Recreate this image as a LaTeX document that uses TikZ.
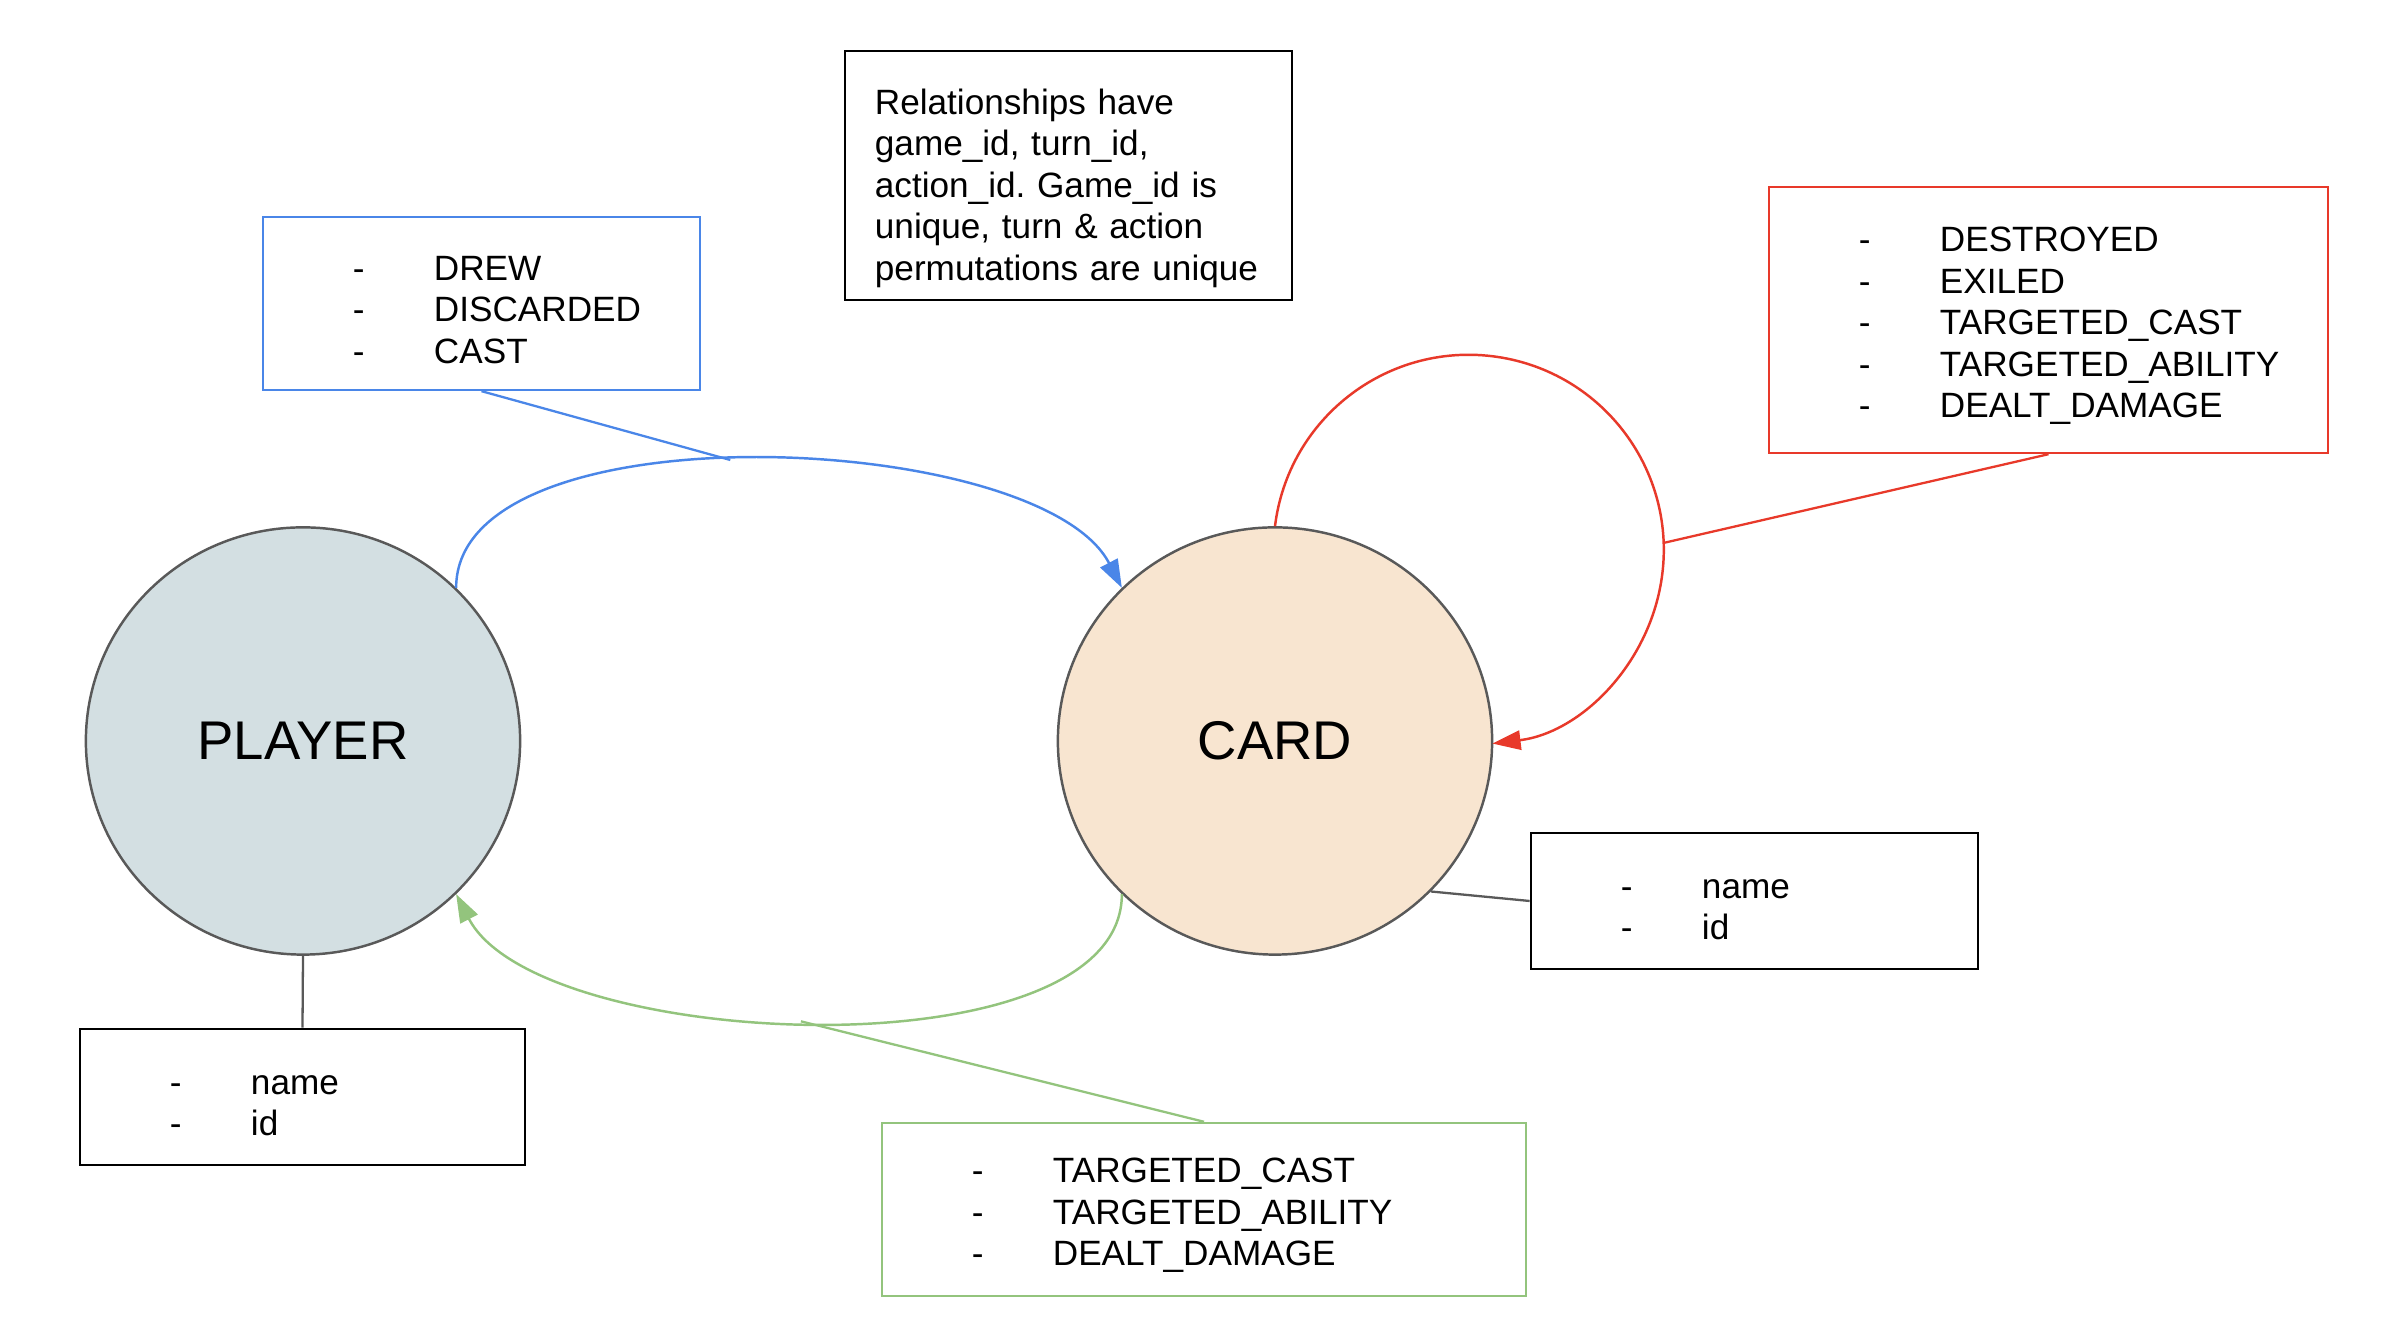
\documentclass[tikz,border=0pt]{standalone}
\usepackage{fontspec}
\setmainfont{Liberation Sans}
\usetikzlibrary{arrows.meta,calc,shapes.geometric}
\definecolor{bluec}{HTML}{4A86E8}
\definecolor{redc}{HTML}{E8392A}
\definecolor{greenc}{HTML}{93C47D}
\definecolor{playerfill}{HTML}{D3DFE2}
\definecolor{cardfill}{HTML}{F8E5D0}
\definecolor{edgegray}{HTML}{595959}
\newcommand{\listline}[1]{\hspace*{0.9cm}\makebox[0.81cm][l]{-}#1}
\frenchspacing
\begin{document}
\begin{tikzpicture}[x=0.01cm,y=0.01cm,
  entity/.style={ellipse, draw=edgegray, line width=0.7pt, minimum width=4.34cm, minimum height=4.27cm, inner sep=0pt,
    font=\fontsize{15.5}{18}\selectfont},
  listbox/.style={draw, line width=0.65pt, inner xsep=0pt, inner ysep=0pt, align=left,
    font=\fontsize{10}{11.8}\selectfont, execute at begin node={\rule{0pt}{10.4pt}}},
  notebox/.style={draw, line width=0.7pt, inner xsep=0.3cm, inner ysep=0pt, align=left,
    font=\fontsize{10}{11.8}\selectfont, execute at begin node={\rule{0pt}{14.6pt}}},
  rel/.style={line width=0.7pt, -{Triangle[length=8pt,width=5.5pt]}},
  lead/.style={line width=0.65pt},
]
\useasboundingbox (0,0) rectangle (2400,1340);
\fill[white] (0,0) rectangle (2400,1340);

% entities
\node[entity, fill=playerfill] (player) at (303,599) {PLAYER};
\node[entity, fill=cardfill] (card) at (1275,599) {CARD};

% boxes
\node[listbox, draw=bluec, text width=4.37cm, minimum height=1.73cm] (bluebox) at (481.5,1036.5)
  {\listline{DREW}\\\listline{DISCARDED}\\\listline{CAST}};
\node[notebox, draw=black, text width=3.87cm, minimum height=2.49cm] (note) at (1068.5,1164.5)
  {Relationships have\\game\_id, turn\_id,\\action\_id. Game\_id is\\unique, turn \& action\\permutations are unique};
\node[listbox, draw=redc, text width=5.59cm, minimum height=2.66cm] (redbox) at (2048.5,1020)
  {\listline{DESTROYED}\\\listline{EXILED}\\\listline{TARGETED\_CAST}\\\listline{TARGETED\_ABILITY}\\\listline{DEALT\_DAMAGE}};
\node[listbox, draw=black, line width=0.7pt, text width=4.47cm, minimum height=1.36cm] (cardbox) at (1754.5,439)
  {\listline{name}\\\listline{id}};
\node[listbox, draw=black, line width=0.7pt, text width=4.45cm, minimum height=1.36cm] (playerbox) at (302.5,243)
  {\listline{name}\\\listline{id}};
\node[listbox, draw=greenc, text width=6.44cm, minimum height=1.73cm] (greenbox) at (1204,130.5)
  {\listline{TARGETED\_CAST}\\\listline{TARGETED\_ABILITY}\\\listline{DEALT\_DAMAGE}};

% relationships
\draw[rel, bluec] (player.45) .. controls (456,935) and (1040,910) .. (card.135) coordinate[pos=0.47] (bluejoin);
\draw[rel, greenc] (card.225) .. controls (1122,263) and (538,288) .. (player.315) coordinate[pos=0.52] (greenjoin);
\coordinate (loopc) at (1468.5,789.2);
\draw[rel, redc] (card.north) arc[start angle=173, end angle=-83, radius=1.95cm];
\coordinate (redjoin) at ($(loopc)+(2.3:1.95cm)$);

% leaders
\draw[lead, bluec] (bluebox.south) -- (bluejoin);
\draw[lead, greenc] (greenbox.north) -- (greenjoin);
\draw[lead, redc] (redbox.south) -- (redjoin);
\draw[lead, edgegray] (card.-44) -- (cardbox.west);
\draw[lead, edgegray] (player.south) -- (playerbox.north);
\end{tikzpicture}
\end{document}
